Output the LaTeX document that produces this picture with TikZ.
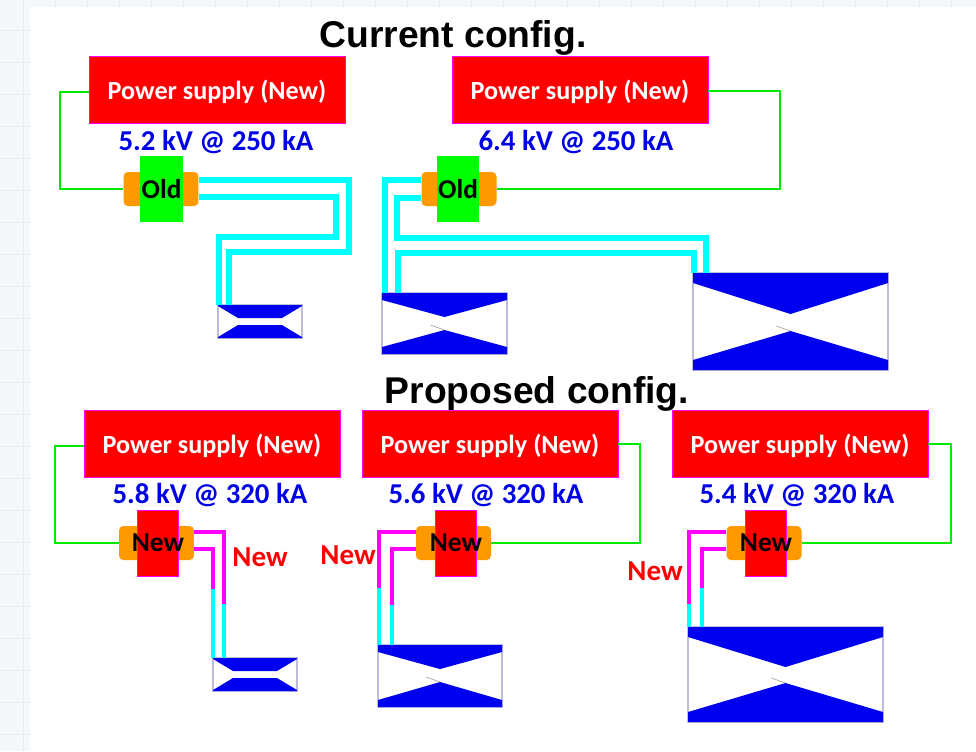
\documentclass[tikz,border=0pt]{standalone}
\usepackage{xcolor}
\usepackage{fontspec}
\usepackage{tikz}
\usetikzlibrary{calc}
\usetikzlibrary{shapes}
\setmainfont{Carlito}
\newfontfamily\titlefont{Liberation Sans}
\definecolor{psred}{RGB}{255,0,0}
\definecolor{psedge}{RGB}{255,0,255}
\definecolor{wiregreen}{RGB}{0,235,0}
\definecolor{swgreen}{RGB}{0,255,0}
\definecolor{swcase}{RGB}{255,153,0}
\definecolor{leadcyan}{RGB}{0,255,255}
\definecolor{coilblue}{RGB}{0,0,240}
\definecolor{coiledge}{RGB}{190,190,220}
\definecolor{voltblue}{RGB}{0,0,230}
\definecolor{pagebg}{RGB}{245,248,250}
\definecolor{pagegrid}{RGB}{230,236,240}
\tikzset{psbox/.style = {rectangle, draw=psedge, fill=psred, inner sep=0pt, minimum width=5.12cm, minimum height=1.34cm, text=white, text height=10.6pt, text depth=0pt, font=\fontsize{14.9}{16}\selectfont\bfseries}}
\tikzset{swcasing/.style = {rectangle, rounded corners=2.5pt, fill=swcase, inner sep=0pt, minimum width=1.5cm, minimum height=0.68cm}}
\tikzset{swold/.style = {rectangle, fill=swgreen, inner sep=0pt, minimum width=0.85cm, minimum height=1.32cm, font=\fontsize{15.5}{17}\selectfont\bfseries}}
\tikzset{swnew/.style = {rectangle, draw=psedge, fill=psred, inner sep=0pt, minimum width=0.82cm, minimum height=1.32cm, font=\fontsize{15.6}{17}\selectfont\bfseries}}
\tikzset{volts/.style = {text=voltblue, font=\fontsize{16.4}{18}\selectfont\bfseries}}
\tikzset{newlabel/.style = {text=psred, font=\fontsize{16.5}{18}\selectfont\bfseries}}
\tikzset{heading/.style = {font=\titlefont\fontsize{21.2}{24}\selectfont\bfseries}}
\tikzset{wire/.style = {draw=wiregreen, line width=1.4pt}}
\tikzset{lead/.style = {draw=leadcyan, line width=3.2pt}}
\tikzset{lowlead/.style = {draw=leadcyan, line width=2.8pt}}
\tikzset{newlead/.style = {draw=psedge, line width=2.8pt}}
\tikzset{coil/.style = {rectangle, draw=coiledge, fill=white, inner sep=0pt, line width=0.7pt}}
% name, x0, y0, x1, y1, side drop, top apex y, bottom apex y, flat half width
\newcommand{\magnet}[9]{
\pgfmathsetmacro{\midx}{(#2+#4)/2}
\path let \n1={(#4-#2)*0.02}, \n2={(#5-#3)*0.02} in node [coil, minimum width=\n1 cm, minimum height=\n2 cm] (#1) at (\midx, {(#3+#5)/2}) {};
\fill [coilblue] (#2,#3) -- (#4,#3) -- (#4,#3+#6) -- (\midx+#9,#7) -- (\midx-#9,#7) -- (#2,#3+#6) -- cycle;
\fill [coilblue] (#2,#5) -- (#4,#5) -- (#4,#5-#6) -- (\midx+#9,#8) -- (\midx-#9,#8) -- (#2,#5-#6) -- cycle;
\coordinate (#1-a) at (\midx,#8);
}
\begin{document}
\begin{tikzpicture}[x=0.02cm, y=-0.02cm]
\useasboundingbox (0,0) rectangle (976,751);
% background sheet
\fill [pagebg] (0,0) rectangle (976,751);
\foreach \gx in {23,55,...,976} \draw [pagegrid] (\gx,0) -- (\gx,751);
\foreach \gy in {30,62,...,751} \draw [pagegrid] (0,\gy) -- (976,\gy);
\fill [white] (30,7) rectangle (976,751);
\node [heading] (cur) at (453,38) {Current config.};
\node [heading] (prop) at (537,394) {Proposed config.};
% current config
\node [psbox] (PS1) at (217,90) {Power supply (New)};
\node [psbox] (PS2) at (580,90) {Power supply (New)};
\node [volts] (V1) at (216,142) {5.2 kV @ 250 kA};
\node [volts] (V2) at (576,142) {6.4 kV @ 250 kA};
\node [swcasing] (C1) at (161,189) {};
\node [swold] (S1) at (161.5,189) {\makebox[0pt]{Old}};
\node [swcasing] (C2) at (459,189) {};
\node [swold] (S2) at (458,189) {\makebox[0pt]{Old}};
\magnet{M1}{218}{305}{302}{338}{1}{318}{325}{22}
\magnet{M2}{382}{293}{507}{354}{7}{317}{330}{0}
\magnet{M3}{693}{273}{888}{370}{10}{314}{331}{0}
\draw [wire] (PS1.west |- 0,92) -- (60,92) |- (C1.west);
\draw [wire] (PS2.east |- 0,91) -- (780,91) |- (C2.east);
\coordinate (A1) at (199,180);
\coordinate (A2) at (199,197);
\coordinate (A3) at (421,180);
\coordinate (A4) at (421,198);
\draw [lead] (A1) -- (349,180) -- (349,252) -- (229,252) -- (229,305);
\draw [lead] (A2) -- (336,197) -- (336,237) -- (219,237) -- (219,305);
\draw [lead] (A3) -- (385,180) -- (385,293);
\draw [lead] (A4) -- (397,198) -- (397,238) -- (706,238) -- (706,273);
\draw [lead] (398,293) -- (398,253) -- (694,253) -- (694,273);
% proposed config
\node [psbox] (PS3) at (212,444) {Power supply (New)};
\node [psbox] (PS4) at (490,444) {Power supply (New)};
\node [psbox] (PS5) at (800,444) {Power supply (New)};
\node [volts] (V3) at (210,495) {5.8 kV @ 320 kA};
\node [volts] (V4) at (486,495) {5.6 kV @ 320 kA};
\node [volts] (V5) at (797,495) {5.4 kV @ 320 kA};
\node [swcasing] (C3) at (156.5,543) {};
\node [swnew] (S3) at (158,543) {\makebox[0pt]{New}};
\node [swcasing] (C4) at (453.5,543) {};
\node [swnew] (S4) at (456,543) {\makebox[0pt]{New}};
\node [swcasing] (C5) at (764,543) {};
\node [swnew] (S5) at (766,543) {\makebox[0pt]{New}};
\magnet{M4}{213}{658}{297}{691}{1}{671}{678}{22}
\magnet{M5}{378}{645}{502}{707}{7}{669}{682}{0}
\magnet{M6}{688}{627}{883}{722}{10}{667}{683}{0}
\draw [wire] (PS3.west |- 0,446) -- (55,446) |- (C3.west);
\draw [wire] (PS4.east) -- (640,444) |- (C4.east);
\draw [wire] (PS5.east) -- (951,444) |- (C5.east);
\draw [lowlead] (224,604) -- (224,658);
\draw [lowlead] (213,589) -- (213,658);
\draw [lowlead] (379,588) -- (379,645);
\draw [lowlead] (392,605) -- (392,645);
\draw [lowlead] (689,604) -- (689,627);
\draw [lowlead] (702,588) -- (702,627);
\draw [newlead] (C3.east |- 0,532) -- (224,532) -- (224,604);
\draw [newlead] (C3.east |- 0,549) -- (213,549) -- (213,589);
\draw [newlead] (C4.west |- 0,532) -- (379,532) -- (379,588);
\draw [newlead] (C4.west |- 0,549) -- (392,549) -- (392,605);
\draw [newlead] (C5.west |- 0,532) -- (689,532) -- (689,604);
\draw [newlead] (C5.west |- 0,549) -- (702,549) -- (702,588);
\node [newlabel] (N1) at (260,557) {New};
\node [newlabel] (N2) at (348,555) {New};
\node [newlabel] (N3) at (655,571) {New};
\foreach \m in {M2,M3,M5,M6} \draw [gray!70, line width=0.4pt] (\m-a) -- ++(-14,-5);
\end{tikzpicture}
\end{document}
